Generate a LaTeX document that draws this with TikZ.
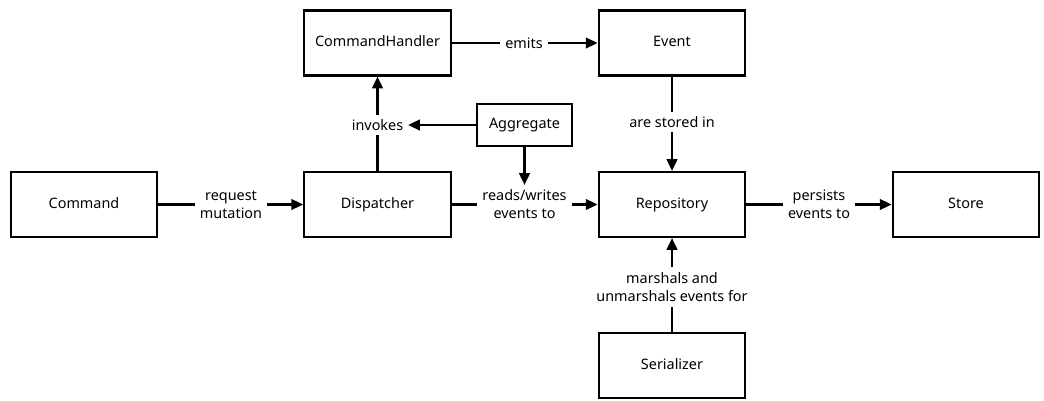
\documentclass[tikz,border=0pt]{standalone}
\usepackage{fontspec}
\setmainfont{Noto Sans}
\usetikzlibrary{arrows.meta}
\begin{document}
\begin{tikzpicture}[x=0.03cm,y=-0.03cm,font=\fontsize{12.3}{15.5}\selectfont,
	box/.style={draw,line width=1.8pt,minimum width=4.4cm,minimum height=1.95cm,text height=9pt,text depth=2.5pt},
	lbl/.style={align=center,inner sep=4pt},
	ln/.style={line width=1.9pt},
	arr/.style={line width=1.9pt,-{Triangle[length=10pt,width=9pt]}}]
	\useasboundingbox (0,0) rectangle (1044,401);
			\node[box] (cmd) at (84,204.5){Command};
			\node[box] (disp) at (377.5,204.5){Dispatcher};
			\node[box] (handler) at (377.5,43){CommandHandler};
			\node[box] (event) at (672,43){Event};
			\node[box] (repo) at (672,204.5){Repository};
			\node[box] (store) at (966,204.5){Store};
			\node[box] (ser) at (672,365.5){Serializer};
			\node[box,minimum width=2.85cm,minimum height=1.26cm] (agg) at (524.5,125){Aggregate};
			\node[lbl] (req) at (231,204.5){request\\mutation};
			\node[lbl] (rw) at (524.5,204.5){reads/writes\\events to};
			\node[lbl] (pers) at (819,204.5){persists\\events to};
			\node[lbl] (emits) at (524,43){emits};
			\node[lbl] (stored) at (672,122){are stored in};
			\node[lbl] (marsh) at (672,287){marshals and\\unmarshals events for};
			\node[lbl] (inv) at (377.5,125){invokes};
			\foreach\a/\l/\b in {cmd/req/disp,disp/rw/repo,repo/pers/store,handler/emits/event,event/stored/repo,ser/marsh/repo,disp/inv/handler}{
				\draw[ln] (\a) to (\l);
				\draw[arr] (\l) to (\b);
			}
			\draw[arr] (agg) to (inv);
			\draw[arr] (agg) to (rw);
		\end{tikzpicture}
\end{document}
